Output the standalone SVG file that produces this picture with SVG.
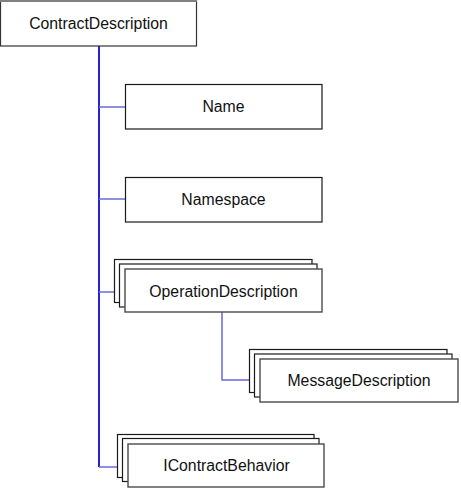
<svg xmlns="http://www.w3.org/2000/svg" width="461" height="492" viewBox="0 0 461 492">
<style>
.bx{fill:#fff;stroke:#1a1a1a;stroke-width:1.2}
.fr{fill:#fff;stroke:#4a4a4a;stroke-width:1.4}
.t{font-family:"Liberation Sans",Arial,sans-serif;font-size:15.8px;fill:#111;text-anchor:middle}
.trunk{stroke:#2424d4;stroke-width:2;fill:none}
.br{stroke:#6a6ad8;stroke-width:1.5;fill:none}
</style>
<rect width="461" height="492" fill="#fff"/>
<g id="connectors">
<line class="trunk" x1="99" y1="46" x2="99" y2="467"/>
<line class="br" x1="99" y1="107" x2="125" y2="107"/>
<line class="br" x1="99" y1="199" x2="125" y2="199"/>
<line class="br" x1="99" y1="292" x2="125" y2="292"/>
<line class="br" x1="99" y1="467" x2="128" y2="467"/>
<polyline class="br" points="222,312 222,380 260,380"/>
</g>
<g id="contractDescription">
<rect x="0.5" y="1" width="196" height="45" fill="#fff" stroke="#333" stroke-width="1.2"/>
<line x1="0" y1="1" x2="197" y2="1" stroke="#808080" stroke-width="2"/>
<text class="t" x="98.5" y="28.5">ContractDescription</text>
</g>
<g id="name">
<rect class="bx" x="125.5" y="84.5" width="196.5" height="44.5"/>
<text class="t" x="223.5" y="112">Name</text>
</g>
<g id="namespace">
<rect class="bx" x="125.5" y="177.5" width="196.5" height="44.5"/>
<text class="t" x="223.5" y="204.5">Namespace</text>
</g>
<g id="operationDescription">
<rect class="bx" x="114.5" y="259.5" width="197.5" height="43"/>
<rect class="bx" x="119.5" y="264" width="197.5" height="43"/>
<rect class="fr" x="125" y="269" width="197" height="43"/>
<text class="t" x="223.5" y="297">OperationDescription</text>
</g>
<g id="messageDescription">
<rect class="bx" x="249.5" y="349.5" width="197.5" height="43"/>
<rect class="bx" x="254.5" y="354" width="197.5" height="43"/>
<rect class="fr" x="260" y="359" width="198" height="43"/>
<text class="t" x="359" y="385.5">MessageDescription</text>
</g>
<g id="iContractBehavior">
<rect class="bx" x="117.5" y="434.5" width="196.5" height="43"/>
<rect class="bx" x="122.5" y="438.5" width="196.5" height="43"/>
<rect class="fr" x="128" y="444" width="196" height="43"/>
<text class="t" x="226.5" y="470.5">IContractBehavior</text>
</g>
</svg>
